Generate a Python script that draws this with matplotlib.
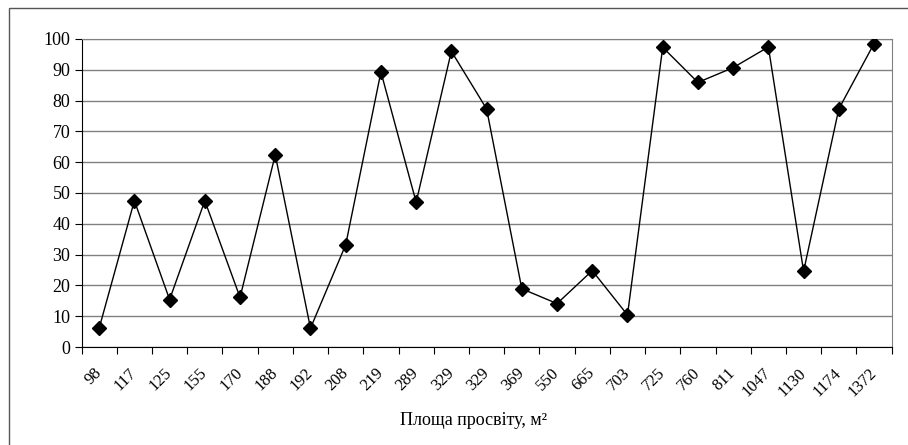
import numpy as np
import matplotlib
matplotlib.use('Agg')
import matplotlib.pyplot as plt
from matplotlib.patches import Rectangle

# площа просвіту (категорії) та значення
areas = ['98', '117', '125', '155', '170', '188', '192', '208', '219', '289', '329',
         '329', '369', '550', '665', '703', '725', '760', '811', '1047', '1130', '1174', '1372']
values = [6.1, 47.5, 15.4, 47.5, 16.1, 62.4, 6.1, 33.2, 89.3, 47.0, 96.0,
          77.3, 18.9, 14.1, 24.8, 10.4, 97.3, 85.9, 90.7, 97.4, 24.6, 77.3, 98.5]
yticks = list(range(0, 101, 10))

plt.rcParams['font.family'] = ['Liberation Serif', 'DejaVu Serif']

fig = plt.figure(figsize=(9.08, 4.45), dpi=100)
ax = fig.add_axes([0.0898, 0.2202, 0.8922, 0.6922])

x = np.arange(len(areas)) + 0.5
ax.plot(x, values, color='black', lw=1, marker='D', markersize=7, zorder=3)

ax.set_xlim(0, len(areas))
ax.set_ylim(0, 100)
ax.set_yticks(yticks)
ax.set_yticklabels([str(t) for t in yticks], fontsize=13)
ax.set_xticks(np.arange(len(areas) + 1))
ax.set_xticklabels([])
ax.set_xticks(x, minor=True)
ax.set_xticklabels(areas, minor=True, rotation=45, fontsize=12,
                   ha='right', va='center', rotation_mode='anchor')
ax.tick_params(axis='x', which='minor', length=0, pad=17)
ax.tick_params(axis='x', which='major', length=5, direction='out')
ax.tick_params(axis='y', length=5, direction='out', pad=3)
ax.yaxis.grid(True, color='#808080', lw=1)
ax.set_axisbelow(True)
for s in ['top', 'right']:
    ax.spines[s].set_color('#808080')
for s in ['left', 'bottom']:
    ax.spines[s].set_color('black')

fig.text(474 / 908, 0.054, 'Площа просвіту, м²', ha='center', va='center', fontsize=13)

fig.patches.append(Rectangle((9 / 908, -0.1), 1.5, 1.1 - 8 / 445, transform=fig.transFigure,
                             fill=False, edgecolor='#555555', lw=1))

plt.savefig('out.png', dpi=100)
